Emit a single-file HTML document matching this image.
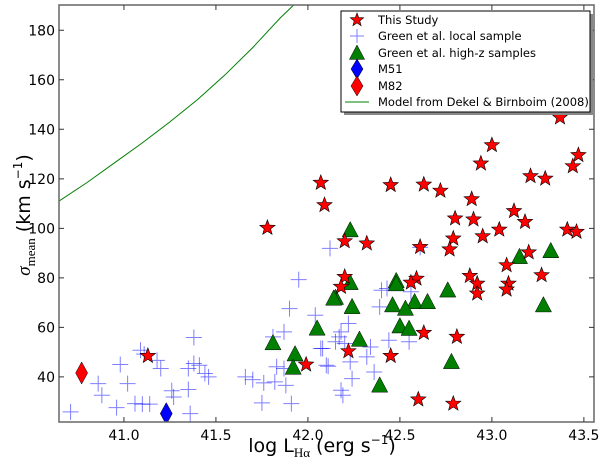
<!DOCTYPE html>
<html><head><meta charset="utf-8"><style>
html,body{margin:0;padding:0;background:#fff;}
svg{display:block;font-family:"DejaVu Sans","Liberation Sans",sans-serif;}
</style></head><body>
<svg id="chart" width="600" height="465" viewBox="0 0 600 465" xmlns="http://www.w3.org/2000/svg">
<g id="curve-layer"></g>
<g id="marks"></g>
<g id="axes"></g>
<text x="322" y="452" font-size="19" text-anchor="middle">log L<tspan font-family="Liberation Serif, serif" font-size="13" dy="5">Hα</tspan><tspan dy="-5"> (erg s</tspan><tspan font-size="12" dy="-8">−1</tspan><tspan dy="8">)</tspan></text>
<text transform="translate(30,215) rotate(-90)" font-size="19" text-anchor="middle"><tspan font-family="Liberation Serif, serif" font-style="italic">σ</tspan><tspan font-family="Liberation Serif, serif" font-size="13" dy="5">mean</tspan><tspan dy="-5"> (km s</tspan><tspan font-size="12" dy="-8">−1</tspan><tspan dy="8">)</tspan></text>
<g id="legend"></g>
</svg>
<script>
const xTicks=[41.0,41.5,42.0,42.5,43.0,43.5];
const yTicks=[40,60,80,100,120,140,160,180];
const studyX=[41.13,41.78,42.09,41.99,43.37,43.00,42.94,43.47,43.44,43.21,43.29,42.07,42.45,42.63,42.72,42.89,42.80,42.90,43.12,43.18,43.04,42.95,43.41,43.46,42.20,42.32,42.61,42.79,42.77,43.20,43.08,43.27,42.88,42.92,43.09,43.08,42.92,42.20,42.18,42.59,42.56,42.63,42.81,42.22,42.45,42.60,42.79];
const studyY=[48.5,100.2,109.4,45.0,144.8,133.6,126.2,129.6,125.1,121.1,120.1,118.4,117.5,117.7,115.2,111.8,104.0,103.6,107.0,102.6,99.5,96.8,99.5,98.6,94.8,93.9,92.5,95.9,91.5,90.3,85.1,81.1,80.8,77.7,77.7,75.3,73.7,80.4,76.4,79.7,78.1,57.8,56.2,50.4,48.5,30.9,29.2];
const localX=[40.71,40.86,40.88,40.98,41.02,40.96,41.06,41.10,41.14,41.09,41.11,41.18,41.20,41.26,41.27,41.35,41.36,41.38,41.35,41.38,41.41,41.44,41.46,41.66,41.70,41.76,41.75,41.82,41.83,41.87,41.88,41.91,41.81,41.87,41.90,41.95,42.04,42.07,42.10,42.12,42.61,42.40,42.43,42.56,42.39,42.22,42.18,42.17,42.15,42.20,42.08,42.44,42.55,42.34,42.32,42.23,42.11,42.36,42.24,42.18,42.19];
const localY=[25.9,37.3,32.6,45.0,37.3,27.6,29.2,29.0,29.0,50.8,49.2,46.7,43.4,34.4,31.9,34.9,25.2,55.9,43.4,45.4,44.7,41.4,40.0,40.0,38.9,37.6,29.5,38.0,44.1,43.4,36.6,29.2,56.2,58.2,67.6,79.3,64.9,51.5,44.7,91.9,92.3,75.0,75.7,74.4,68.3,61.6,58.2,56.2,54.2,53.5,51.5,54.8,54.2,52.1,48.1,46.1,44.3,42.0,39.3,34.6,32.6];
const hizX=[41.81,42.05,41.93,41.92,42.23,43.15,43.32,42.23,42.48,42.76,42.48,42.15,42.24,42.46,42.58,42.65,43.28,42.53,42.50,42.55,42.78,42.39,42.28,42.14];
const hizY=[53.7,59.6,49.2,43.8,99.3,88.5,90.9,78.0,78.8,75.0,77.5,72.0,68.3,69.0,70.3,70.3,69.0,67.6,60.5,59.5,46.1,36.6,55.1,71.7];
const m51X=[41.23], m51Y=[25.2];
const m82X=[40.77], m82Y=[41.6];
const modelX=[40.647,40.80,40.95,41.10,41.25,41.40,41.55,41.70,41.85,41.92,42.00];
const modelY=[111,118.5,126.5,134.5,143,152,162,173,185,190,196];
</script>
<script>
const L=59,R=594,T=5,B=422;
const XMIN=40.647,XMAX=43.555,YMIN=21.8,YMAX=190.2;
const sx=v=>L+(v-XMIN)/(XMAX-XMIN)*(R-L);
const sy=v=>B-(v-YMIN)/(YMAX-YMIN)*(B-T);
const NS="http://www.w3.org/2000/svg";
function mk(tag,attrs,parent){const e=document.createElementNS(NS,tag);for(const k in attrs)e.setAttribute(k,attrs[k]);parent.appendChild(e);return e;}
const marks=document.getElementById('marks'),axes=document.getElementById('axes'),cl=document.getElementById('curve-layer'),lg=document.getElementById('legend');

const defs=mk('defs',{},document.getElementById('chart'));
const cp=mk('clipPath',{id:'pc'},defs);mk('rect',{x:L,y:T,width:R-L,height:B-T},cp);
cl.setAttribute('clip-path','url(#pc)');marks.setAttribute('clip-path','url(#pc)');

function starPath(cx,cy,r){let d='';for(let i=0;i<10;i++){const a=-Math.PI/2+i*Math.PI/5;const rr=i%2?r*0.42:r;d+=(i?'L':'M')+(cx+rr*Math.cos(a)).toFixed(1)+','+(cy+rr*Math.sin(a)).toFixed(1);}return d+'Z';}
function drawStar(cx,cy,r,parent){return mk('path',{d:starPath(cx,cy,r),fill:'#ff0000',stroke:'#000','stroke-width':0.6},parent);}
function drawPlus(cx,cy,s,parent){return mk('path',{d:`M${cx-s},${cy}H${cx+s}M${cx},${cy-s}V${cy+s}`,stroke:'#0000ff','stroke-opacity':0.5,'stroke-width':1,fill:'none'},parent);}
function drawTri(cx,cy,s,parent){return mk('path',{d:`M${cx},${cy-s}L${cx+s*0.95},${cy+s*0.8}L${cx-s*0.95},${cy+s*0.8}Z`,fill:'#007f00',stroke:'#000','stroke-width':0.5},parent);}
function drawDiamond(cx,cy,w,h,col,parent){return mk('path',{d:`M${cx},${cy-h}L${cx+w},${cy}L${cx},${cy+h}L${cx-w},${cy}Z`,fill:col,stroke:'#000','stroke-width':0.5},parent);}

let d='';modelX.forEach((x,i)=>{d+=(i?'L':'M')+sx(x).toFixed(1)+','+sy(modelY[i]).toFixed(1);});
const cu=mk('path',{d:d,stroke:'#007f00','stroke-width':1,fill:'none'},cl);



localX.forEach((x,i)=>{const e=drawPlus(sx(x),sy(localY[i]),8,marks);

});
hizX.forEach((x,i)=>{const e=drawTri(sx(x),sy(hizY[i]),8.5,marks);

});
m51X.forEach((x,i)=>{const e=drawDiamond(sx(x),sy(m51Y[i]),6,11,'#0000ff',marks);

});
m82X.forEach((x,i)=>{const e=drawDiamond(sx(x),sy(m82Y[i]),6,11,'#ff0000',marks);

});
studyX.forEach((x,i)=>{const e=drawStar(sx(x),sy(studyY[i]),8,marks);

});

const fr=mk('rect',{x:L,y:T,width:R-L,height:B-T,fill:'none',stroke:'#666','stroke-width':1.5},axes);


xTicks.forEach(v=>{const x=sx(v);
mk('path',{d:`M${x},${B}V${B-5}M${x},${T}V${T+5}`,stroke:'#333','stroke-width':1},axes);
const t=mk('text',{x:x,y:B+18,'font-size':14,'text-anchor':'middle',fill:'#000'},axes);t.textContent=v.toFixed(1);

});
yTicks.forEach(v=>{const y=sy(v);
mk('path',{d:`M${L},${y}H${L+5}M${R},${y}H${R-5}`,stroke:'#333','stroke-width':1},axes);
const t=mk('text',{x:L-4,y:y+5,'font-size':14,'text-anchor':'end',fill:'#000'},axes);t.textContent=String(v);

});

mk('rect',{x:344,y:14,width:249,height:101,fill:'#888'},lg);
const lb=mk('rect',{x:341,y:11,width:249,height:101,fill:'#fff',stroke:'#000','stroke-width':1},lg);


const labels=['This Study','Green et al. local sample','Green et al. high-z samples','M51','M82','Model from Dekel & Birnboim (2008)'];
const rows=[20,36,53,69,86,102];
labels.forEach((s,i)=>{const y=rows[i],cx=357;
if(i==0)drawStar(cx,y,7,lg);
if(i==1)drawPlus(cx,y,7,lg);
if(i==2)drawTri(cx,y,8,lg);
if(i==3)drawDiamond(cx,y,6,10,'#0000ff',lg);
if(i==4)drawDiamond(cx,y,6,10,'#ff0000',lg);
if(i==5)mk('path',{d:`M${cx-12},${y}H${cx+12}`,stroke:'#007f00','stroke-width':1},lg);
const t=mk('text',{x:378,y:y+4,'font-size':11.5,fill:'#000'},lg);t.textContent=s;

});
</script>
</body></html>
